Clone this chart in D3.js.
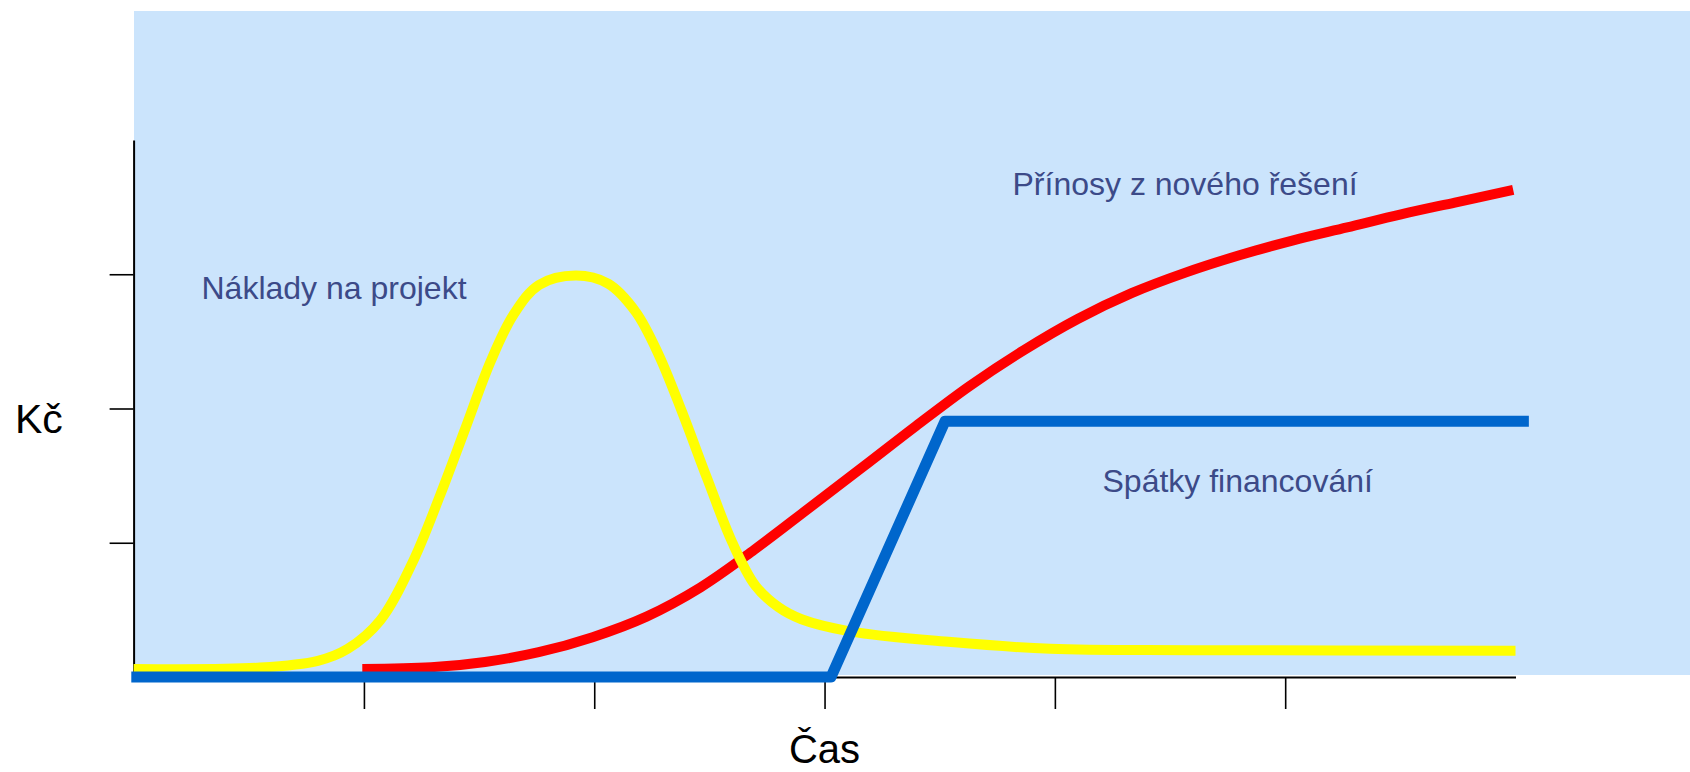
<!DOCTYPE html>
<html>
<head>
<meta charset="utf-8">
<title>Náklady a přínosy</title>
<script src="https://d3js.org/d3.v7.min.js"></script>
<style>
    body { margin: 0; background: #fff; }
    text { font-family: "Liberation Sans", Arial, sans-serif; }
    .axis path, .axis line { stroke: #000; }
</style>
</head>
<body>
<div id="chart"></div>
<script>
    // time on x (0..6), money on y (0..4)
    var xTicks = [1, 2, 3, 4, 5];
    var yTicks = [1, 2, 3];

    var costX = [0, 0.55, 0.8, 0.93, 1.07, 1.21, 1.33, 1.44, 1.55, 1.65, 1.76, 1.92, 2.06, 2.18, 2.28, 2.38, 2.49, 2.6, 2.7, 2.8, 2.9, 3.11, 3.55, 3.98, 4.6, 6.0];
    var costY = [0.06, 0.07, 0.12, 0.21, 0.42, 0.85, 1.35, 1.85, 2.35, 2.7, 2.92, 2.99, 2.93, 2.72, 2.4, 1.98, 1.48, 1.0, 0.68, 0.52, 0.43, 0.34, 0.26, 0.21, 0.2, 0.196];

    var benefitX = [0.993, 1.292, 1.526, 1.759, 1.993, 2.227, 2.461, 2.695, 2.929, 3.163, 3.397, 3.631, 3.865, 4.099, 4.333, 4.567, 4.801, 5.035, 5.269, 5.503, 5.737, 5.99];
    var benefitY = [0.06, 0.072, 0.112, 0.185, 0.297, 0.45, 0.667, 0.948, 1.253, 1.56, 1.87, 2.169, 2.434, 2.667, 2.859, 3.012, 3.141, 3.253, 3.349, 3.446, 3.534, 3.628];

    var paybackX = [-0.01, 3.028, 3.523, 6.058];
    var paybackY = [0, 0, 1.905, 1.905];

    var W = 1690, H = 772;
    var svg = d3.select("#chart").append("svg")
        .attr("width", W)
        .attr("height", H);

    var x = d3.scaleLinear().domain([0, 6]).range([133.6, 1515.5]);
    var y = d3.scaleLinear().domain([0, 4]).range([677, 140]);

    // plot background
    svg.append("rect")
        .attr("x", 134).attr("y", 11)
        .attr("width", W - 134).attr("height", 664)
        .attr("fill", "#cbe4fc");

    // axes without labels
    svg.append("g")
        .attr("class", "axis")
        .attr("transform", "translate(" + x(0) + ",0)")
        .call(d3.axisLeft(y).tickValues(yTicks).tickSize(24).tickSizeOuter(0).tickFormat(""));
    svg.append("g")
        .attr("class", "axis")
        .attr("transform", "translate(0," + y(0) + ")")
        .call(d3.axisBottom(x).tickValues(xTicks).tickSize(32).tickSizeOuter(0).tickFormat(""));
    svg.selectAll(".axis path").attr("stroke-width", 2);
    svg.selectAll(".axis line").attr("stroke-width", 1.6);

    function pts(xs, ys) {
        return xs.map(function (d, i) { return [d, ys[i]]; });
    }

    var smooth = d3.line()
        .x(function (d) { return x(d[0]); })
        .y(function (d) { return y(d[1]); })
        .curve(d3.curveCatmullRom.alpha(0.5));
    var straight = d3.line()
        .x(function (d) { return x(d[0]); })
        .y(function (d) { return y(d[1]); });

    svg.append("path")
        .attr("d", smooth(pts(benefitX, benefitY)))
        .attr("fill", "none")
        .attr("stroke", "#ff0000")
        .attr("stroke-width", 10);

    svg.append("path")
        .attr("d", smooth(pts(costX, costY)))
        .attr("fill", "none")
        .attr("stroke", "#ffff00")
        .attr("stroke-width", 10);

    svg.append("path")
        .attr("d", straight(pts(paybackX, paybackY)))
        .attr("fill", "none")
        .attr("stroke", "#0066cc")
        .attr("stroke-width", 11)
        .attr("stroke-linejoin", "round");

    // series labels
    var labelColor = "#3c4a88";
    svg.append("text").attr("x", 201.5).attr("y", 299)
        .attr("font-size", 32).attr("fill", labelColor)
        .text("Náklady na projekt");
    svg.append("text").attr("x", 1012.5).attr("y", 195)
        .attr("font-size", 32).attr("fill", labelColor)
        .text("Přínosy z nového řešení");
    svg.append("text").attr("x", 1102.5).attr("y", 492)
        .attr("font-size", 32).attr("fill", labelColor)
        .text("Spátky financování");

    // axis titles
    svg.append("text").attr("x", 15).attr("y", 433)
        .attr("font-size", 41).attr("fill", "#000")
        .text("Kč");
    svg.append("text").attr("x", x(3)).attr("y", 763)
        .attr("text-anchor", "middle")
        .attr("font-size", 40).attr("fill", "#000")
        .text("Čas");
</script>
</body>
</html>
